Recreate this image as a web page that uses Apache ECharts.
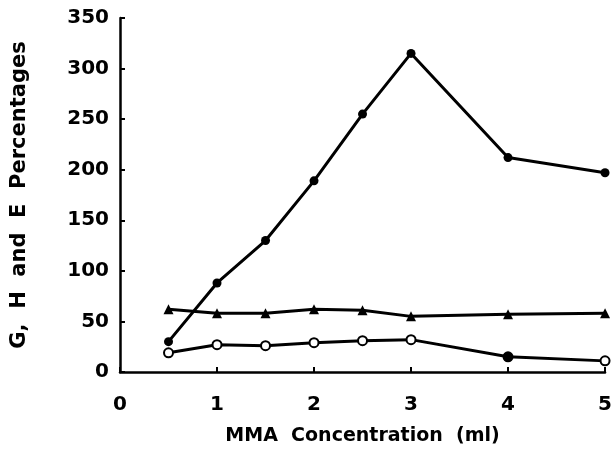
<!DOCTYPE html>
<html>
<head>
<meta charset="utf-8">
<script src="https://cdn.jsdelivr.net/npm/echarts@6/dist/echarts.min.js"></script>
<style>
  html, body { margin: 0; padding: 0; background: #fff; }
  #chart { width: 615px; height: 471px; }
</style>
</head>
<body>
<div id="chart"></div>
<script>
// MMA concentration (ml) on the x axis
var concentration = [0.5, 1, 1.5, 2, 2.5, 3, 4, 5];
// Percentages for the three measured quantities
var gValues = [30, 88, 130, 189, 255, 315, 212, 197];   // filled circles
var hValues = [62, 58, 58, 62, 61, 55, 57, 58];          // filled triangles
var eValues = [19, 27, 26, 29, 31, 32, 15, 11];          // open circles

var xTicks = [0, 1, 2, 3, 4, 5];
var yTicks = [0, 50, 100, 150, 200, 250, 300, 350];

var FONT = '"DejaVu Sans", Arial, sans-serif';

function pairs(xs, ys) {
  return xs.map(function (x, i) { return [x, ys[i]]; });
}

var eData = pairs(concentration, eValues).map(function (p, i) {
  // the reading at 4 ml is plotted solid
  return i === 6 ? { value: p, itemStyle: { color: '#000' } } : p;
});

var chart = echarts.init(document.getElementById('chart'), null, { renderer: 'canvas' });
chart.setOption({
  backgroundColor: '#fff',
  animation: false,
  grid: { left: 120, right: 5, top: 18, bottom: 99, containLabel: false },
  xAxis: {
    type: 'value',
    min: xTicks[0], max: xTicks[xTicks.length - 1], interval: 1,
    name: 'MMA  Concentration  (ml)',
    nameLocation: 'middle',
    nameGap: 55,
    nameTextStyle: { fontFamily: FONT, fontWeight: 'bold', fontSize: 19, color: '#000' },
    axisLine: { lineStyle: { color: '#000', width: 2.5 } },
    axisTick: { inside: true, length: 5, lineStyle: { color: '#000', width: 2 } },
    axisLabel: { margin: 23, fontFamily: FONT, fontWeight: 'bold', fontSize: 20, color: '#000' },
    splitLine: { show: false }
  },
  yAxis: {
    type: 'value',
    min: yTicks[0], max: yTicks[yTicks.length - 1], interval: 50,
    name: 'G,  H  and  E  Percentages',
    nameLocation: 'middle',
    nameGap: 90,
    nameTextStyle: { fontFamily: FONT, fontWeight: 'bold', fontSize: 21, color: '#000' },
    axisLine: { lineStyle: { color: '#000', width: 2.5 } },
    axisTick: { inside: true, length: 5, lineStyle: { color: '#000', width: 2 } },
    axisLabel: { margin: 11, fontFamily: FONT, fontWeight: 'bold', fontSize: 20, color: '#000' },
    splitLine: { show: false }
  },
  series: [
    {
      name: 'G', type: 'line', data: pairs(concentration, gValues),
      symbol: 'circle', symbolSize: 9,
      lineStyle: { color: '#000', width: 3 },
      itemStyle: { color: '#000' }
    },
    {
      name: 'H', type: 'line', data: pairs(concentration, hValues),
      symbol: 'triangle', symbolSize: 10,
      lineStyle: { color: '#000', width: 3 },
      itemStyle: { color: '#000' }
    },
    {
      name: 'E', type: 'line', data: eData,
      symbol: 'circle', symbolSize: 9,
      lineStyle: { color: '#000', width: 3 },
      itemStyle: { color: '#fff', borderColor: '#000', borderWidth: 2 }
    }
  ]
});
</script>
</body>
</html>
